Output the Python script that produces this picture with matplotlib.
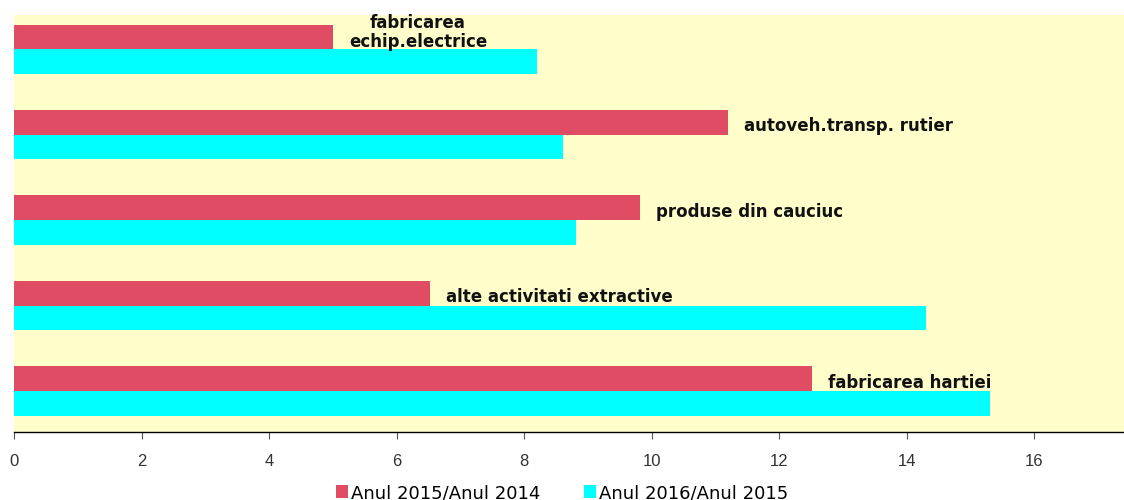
import numpy as np
import matplotlib.pyplot as plt
from matplotlib.patches import Patch

# categories from top to bottom
categories = [
    "fabricarea\nechip.electrice",
    "autoveh.transp. rutier",
    "produse din cauciuc",
    "alte activitati extractive",
    "fabricarea hartiei",
]
series_names = ["Anul 2015/Anul 2014", "Anul 2016/Anul 2015"]
v_2015 = [5.0, 11.2, 9.82, 6.53, 12.52]
v_2016 = [8.2, 8.61, 8.82, 14.31, 15.31]
xticks = [0, 2, 4, 6, 8, 10, 12, 14, 16]

red = "#E04C63"
cyan = "#00FFFF"

fig = plt.figure(figsize=(11.24, 5.0), dpi=100)
ax = fig.add_axes([0.01246, 0.136, 0.98754, 0.834])
ax.set_facecolor("#FFFDCA")

y = np.arange(len(categories))
h = 0.288
ax.barh(y - h / 2, v_2015, height=h, color=red, edgecolor="none")
ax.barh(y + h / 2, v_2016, height=h, color=cyan, edgecolor="none")

for i, (lab, v) in enumerate(zip(categories, v_2015)):
    dy = -0.1 if "\n" in lab else 0.0
    ax.annotate(lab, xy=(v, i - h / 2 + dy), xytext=(16, -4),
                textcoords="offset pixels", ha="left", va="center",
                multialignment="center", fontsize=12, fontweight="bold",
                family="DejaVu Sans", color="#111111", linespacing=1.05)

ax.set_xlim(0, 17.41)
ax.set_ylim(4.48, -0.40)
ax.set_yticks([])
ax.set_xticks(xticks)
ax.set_xticklabels([str(t) for t in xticks], family="Liberation Sans",
                   fontsize=12, color="#333333")
ax.tick_params(axis="x", direction="out", length=5, width=0.8, pad=11,
               color="#555555")
for s in ["top", "right", "left"]:
    ax.spines[s].set_visible(False)
ax.spines["bottom"].set_color("black")
ax.spines["bottom"].set_linewidth(1.0)

handles = [Patch(facecolor=red, edgecolor="none"),
           Patch(facecolor=cyan, edgecolor="none")]
fig.legend(handles, series_names, loc="center", bbox_to_anchor=(0.5, 0.014),
           ncol=2, frameon=False, prop={"family": "DejaVu Sans", "size": 13},
           handlelength=0.7, handleheight=0.7, handletextpad=0.15,
           columnspacing=2.4, borderpad=0)

fig.savefig("out.png", dpi=100)
